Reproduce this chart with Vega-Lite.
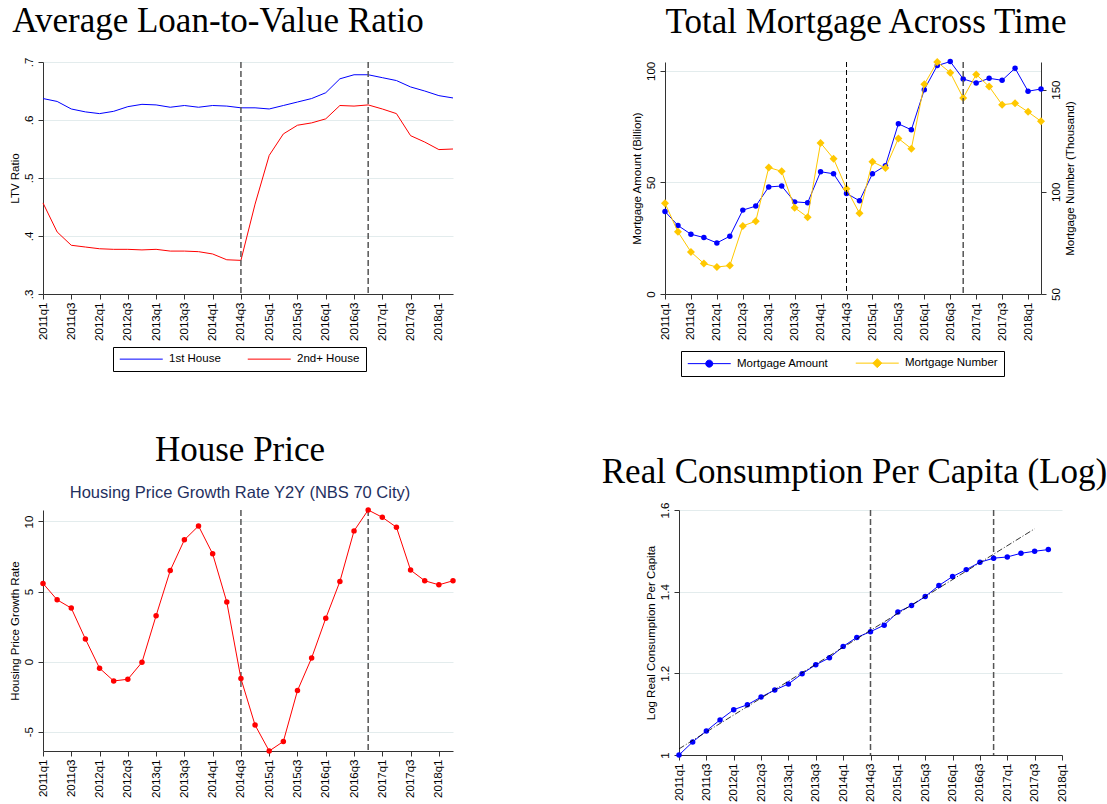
{
  "$schema": "https://vega.github.io/schema/vega-lite/v6.json",
  "padding": {"left": 9, "top": 4, "right": 0, "bottom": 0},
  "spacing": 51,
  "resolve": {"scale": {"color": "independent"}, "legend": {"color": "independent"}},
  "datasets": {
    "ltv": [
      {"quarter": "2011q1", "series": "1st House", "ltv": 0.637}, {"quarter": "2011q2", "series": "1st House", "ltv": 0.632}, {"quarter": "2011q3", "series": "1st House", "ltv": 0.619}, {"quarter": "2011q4", "series": "1st House", "ltv": 0.614},
      {"quarter": "2012q1", "series": "1st House", "ltv": 0.611}, {"quarter": "2012q2", "series": "1st House", "ltv": 0.615}, {"quarter": "2012q3", "series": "1st House", "ltv": 0.623}, {"quarter": "2012q4", "series": "1st House", "ltv": 0.627},
      {"quarter": "2013q1", "series": "1st House", "ltv": 0.626}, {"quarter": "2013q2", "series": "1st House", "ltv": 0.622}, {"quarter": "2013q3", "series": "1st House", "ltv": 0.625}, {"quarter": "2013q4", "series": "1st House", "ltv": 0.622},
      {"quarter": "2014q1", "series": "1st House", "ltv": 0.625}, {"quarter": "2014q2", "series": "1st House", "ltv": 0.624}, {"quarter": "2014q3", "series": "1st House", "ltv": 0.621}, {"quarter": "2014q4", "series": "1st House", "ltv": 0.621},
      {"quarter": "2015q1", "series": "1st House", "ltv": 0.619}, {"quarter": "2015q2", "series": "1st House", "ltv": 0.625}, {"quarter": "2015q3", "series": "1st House", "ltv": 0.631}, {"quarter": "2015q4", "series": "1st House", "ltv": 0.637},
      {"quarter": "2016q1", "series": "1st House", "ltv": 0.647}, {"quarter": "2016q2", "series": "1st House", "ltv": 0.671}, {"quarter": "2016q3", "series": "1st House", "ltv": 0.678}, {"quarter": "2016q4", "series": "1st House", "ltv": 0.678},
      {"quarter": "2017q1", "series": "1st House", "ltv": 0.673}, {"quarter": "2017q2", "series": "1st House", "ltv": 0.668}, {"quarter": "2017q3", "series": "1st House", "ltv": 0.657}, {"quarter": "2017q4", "series": "1st House", "ltv": 0.650},
      {"quarter": "2018q1", "series": "1st House", "ltv": 0.642}, {"quarter": "2018q2", "series": "1st House", "ltv": 0.638},
      {"quarter": "2011q1", "series": "2nd+ House", "ltv": 0.457}, {"quarter": "2011q2", "series": "2nd+ House", "ltv": 0.407}, {"quarter": "2011q3", "series": "2nd+ House", "ltv": 0.384}, {"quarter": "2011q4", "series": "2nd+ House", "ltv": 0.381},
      {"quarter": "2012q1", "series": "2nd+ House", "ltv": 0.378}, {"quarter": "2012q2", "series": "2nd+ House", "ltv": 0.377}, {"quarter": "2012q3", "series": "2nd+ House", "ltv": 0.377}, {"quarter": "2012q4", "series": "2nd+ House", "ltv": 0.376},
      {"quarter": "2013q1", "series": "2nd+ House", "ltv": 0.377}, {"quarter": "2013q2", "series": "2nd+ House", "ltv": 0.374}, {"quarter": "2013q3", "series": "2nd+ House", "ltv": 0.374}, {"quarter": "2013q4", "series": "2nd+ House", "ltv": 0.373},
      {"quarter": "2014q1", "series": "2nd+ House", "ltv": 0.369}, {"quarter": "2014q2", "series": "2nd+ House", "ltv": 0.359}, {"quarter": "2014q3", "series": "2nd+ House", "ltv": 0.358}, {"quarter": "2014q4", "series": "2nd+ House", "ltv": 0.455},
      {"quarter": "2015q1", "series": "2nd+ House", "ltv": 0.539}, {"quarter": "2015q2", "series": "2nd+ House", "ltv": 0.576}, {"quarter": "2015q3", "series": "2nd+ House", "ltv": 0.591}, {"quarter": "2015q4", "series": "2nd+ House", "ltv": 0.595},
      {"quarter": "2016q1", "series": "2nd+ House", "ltv": 0.602}, {"quarter": "2016q2", "series": "2nd+ House", "ltv": 0.625}, {"quarter": "2016q3", "series": "2nd+ House", "ltv": 0.624}, {"quarter": "2016q4", "series": "2nd+ House", "ltv": 0.626},
      {"quarter": "2017q1", "series": "2nd+ House", "ltv": 0.619}, {"quarter": "2017q2", "series": "2nd+ House", "ltv": 0.611}, {"quarter": "2017q3", "series": "2nd+ House", "ltv": 0.573}, {"quarter": "2017q4", "series": "2nd+ House", "ltv": 0.562},
      {"quarter": "2018q1", "series": "2nd+ House", "ltv": 0.549}, {"quarter": "2018q2", "series": "2nd+ House", "ltv": 0.550}
    ],
    "mortgage": [
      {"quarter": "2011q1", "amount": 37.0, "number": 94.4}, {"quarter": "2011q2", "amount": 30.7, "number": 80.4}, {"quarter": "2011q3", "amount": 26.8, "number": 70.6}, {"quarter": "2011q4", "amount": 25.3, "number": 64.9},
      {"quarter": "2012q1", "amount": 22.9, "number": 63.2}, {"quarter": "2012q2", "amount": 25.9, "number": 63.9}, {"quarter": "2012q3", "amount": 37.6, "number": 83.3}, {"quarter": "2012q4", "amount": 39.4, "number": 85.6},
      {"quarter": "2013q1", "amount": 48.0, "number": 111.9}, {"quarter": "2013q2", "amount": 48.4, "number": 110.0}, {"quarter": "2013q3", "amount": 41.3, "number": 92.2}, {"quarter": "2013q4", "amount": 40.9, "number": 87.6},
      {"quarter": "2014q1", "amount": 54.8, "number": 123.9}, {"quarter": "2014q2", "amount": 53.9, "number": 116.2}, {"quarter": "2014q3", "amount": 45.1, "number": 101.5}, {"quarter": "2014q4", "amount": 41.8, "number": 89.5},
      {"quarter": "2015q1", "amount": 53.9, "number": 114.7}, {"quarter": "2015q2", "amount": 57.5, "number": 111.6}, {"quarter": "2015q3", "amount": 76.3, "number": 126.1}, {"quarter": "2015q4", "amount": 73.6, "number": 121.1},
      {"quarter": "2016q1", "amount": 91.6, "number": 152.6}, {"quarter": "2016q2", "amount": 102.4, "number": 163.5}, {"quarter": "2016q3", "amount": 104.2, "number": 158.3}, {"quarter": "2016q4", "amount": 96.4, "number": 145.9},
      {"quarter": "2017q1", "amount": 94.6, "number": 157.4}, {"quarter": "2017q2", "amount": 96.7, "number": 151.5}, {"quarter": "2017q3", "amount": 95.8, "number": 142.6}, {"quarter": "2017q4", "amount": 101.2, "number": 143.3},
      {"quarter": "2018q1", "amount": 90.9, "number": 139.1}, {"quarter": "2018q2", "amount": 91.9, "number": 134.5}
    ],
    "house": [
      {"quarter": "2011q1", "growth": 5.58}, {"quarter": "2011q2", "growth": 4.41}, {"quarter": "2011q3", "growth": 3.82}, {"quarter": "2011q4", "growth": 1.61},
      {"quarter": "2012q1", "growth": -0.47}, {"quarter": "2012q2", "growth": -1.38}, {"quarter": "2012q3", "growth": -1.26}, {"quarter": "2012q4", "growth": -0.05},
      {"quarter": "2013q1", "growth": 3.28}, {"quarter": "2013q2", "growth": 6.5}, {"quarter": "2013q3", "growth": 8.69}, {"quarter": "2013q4", "growth": 9.68},
      {"quarter": "2014q1", "growth": 7.69}, {"quarter": "2014q2", "growth": 4.25}, {"quarter": "2014q3", "growth": -1.21}, {"quarter": "2014q4", "growth": -4.53},
      {"quarter": "2015q1", "growth": -6.38}, {"quarter": "2015q2", "growth": -5.7}, {"quarter": "2015q3", "growth": -2.07}, {"quarter": "2015q4", "growth": 0.26},
      {"quarter": "2016q1", "growth": 3.09}, {"quarter": "2016q2", "growth": 5.72}, {"quarter": "2016q3", "growth": 9.33}, {"quarter": "2016q4", "growth": 10.82},
      {"quarter": "2017q1", "growth": 10.3}, {"quarter": "2017q2", "growth": 9.59}, {"quarter": "2017q3", "growth": 6.53}, {"quarter": "2017q4", "growth": 5.77},
      {"quarter": "2018q1", "growth": 5.48}, {"quarter": "2018q2", "growth": 5.77}
    ],
    "cons": [
      {"quarter": "2011q1", "lcons": 1.0}, {"quarter": "2011q2", "lcons": 1.032}, {"quarter": "2011q3", "lcons": 1.059}, {"quarter": "2011q4", "lcons": 1.086},
      {"quarter": "2012q1", "lcons": 1.111}, {"quarter": "2012q2", "lcons": 1.123}, {"quarter": "2012q3", "lcons": 1.142}, {"quarter": "2012q4", "lcons": 1.159},
      {"quarter": "2013q1", "lcons": 1.174}, {"quarter": "2013q2", "lcons": 1.199}, {"quarter": "2013q3", "lcons": 1.221}, {"quarter": "2013q4", "lcons": 1.238},
      {"quarter": "2014q1", "lcons": 1.266}, {"quarter": "2014q2", "lcons": 1.288}, {"quarter": "2014q3", "lcons": 1.302}, {"quarter": "2014q4", "lcons": 1.318},
      {"quarter": "2015q1", "lcons": 1.35}, {"quarter": "2015q2", "lcons": 1.366}, {"quarter": "2015q3", "lcons": 1.388}, {"quarter": "2015q4", "lcons": 1.415},
      {"quarter": "2016q1", "lcons": 1.437}, {"quarter": "2016q2", "lcons": 1.454}, {"quarter": "2016q3", "lcons": 1.472}, {"quarter": "2016q4", "lcons": 1.482},
      {"quarter": "2017q1", "lcons": 1.485}, {"quarter": "2017q2", "lcons": 1.494}, {"quarter": "2017q3", "lcons": 1.499}, {"quarter": "2017q4", "lcons": 1.503}
    ],
    "trend": [
      {"quarter": "2011q1", "fit": 1.015}, {"quarter": "2017q3", "fit": 1.554}
    ],
    "events": [
      {"quarter": "2014q3"}, {"quarter": "2016q4"}
    ]
  },
  "vconcat": [
    {
      "spacing": 176,
      "resolve": {"scale": {"color": "independent"}, "legend": {"color": "independent"}},
      "hconcat": [
        {
          "width": 410, "height": 232,
          "title": {"text": "Average Loan-to-Value Ratio", "frame": "group", "dx": -30, "offset": 18},
          "encoding": {
            "x": {"field": "quarter", "type": "ordinal", "scale": {"type": "point", "padding": 0},
              "axis": {"title": null, "values": ["2011q1","2011q3","2012q1","2012q3","2013q1","2013q3","2014q1","2014q3","2015q1","2015q3","2016q1","2016q3","2017q1","2017q3","2018q1"], "labelAngle": -90, "labelAlign": "right", "labelBaseline": "middle", "labelOverlap": false, "grid": false}}
          },
          "layer": [
            {
              "data": {"name": "ltv"},
              "mark": {"type": "line", "strokeWidth": 1},
              "encoding": {
                "y": {"field": "ltv", "type": "quantitative", "scale": {"domain": [0.3, 0.7], "nice": false, "zero": false},
                  "axis": {"title": "LTV Ratio", "values": [0.3, 0.4, 0.5, 0.6, 0.7], "labelExpr": "replace(format(datum.value, '.1f'), '0.', '.')", "labelAngle": -90, "labelAlign": "center", "labelBaseline": "bottom", "grid": true, "labelPadding": 4}},
                "color": {"field": "series", "type": "nominal", "scale": {"domain": ["1st House", "2nd+ House"], "range": ["#0000ff", "#ff0000"]},
                  "legend": {"orient": "none", "legendX": 70, "legendY": 285, "direction": "horizontal", "title": null, "strokeColor": "#000", "padding": 6, "columnPadding": 24, "labelOffset": 22, "symbolOffset": 16.5, "symbolType": "M-4.3,0H4.3", "symbolSize": 100, "symbolStrokeWidth": 1, "labelFontSize": 11.5, "labelFont": "Liberation Sans", "labelColor": "#000"}}
              }
            },
            {
              "data": {"name": "events"},
              "mark": {"type": "rule", "color": "#555555", "strokeWidth": 1.5, "strokeDash": [6, 3]},
              "encoding": {}
            }
          ]
        },
        {
          "width": 376, "height": 232,
          "title": {"text": "Total Mortgage Across Time", "frame": "group", "dx": 13, "offset": 18},
          "data": {"name": "mortgage"},
          "encoding": {
            "x": {"field": "quarter", "type": "ordinal", "scale": {"type": "point", "padding": 0},
              "axis": {"title": null, "values": ["2011q1","2011q3","2012q1","2012q3","2013q1","2013q3","2014q1","2014q3","2015q1","2015q3","2016q1","2016q3","2017q1","2017q3","2018q1"], "labelAngle": -90, "labelAlign": "right", "labelBaseline": "middle", "labelOverlap": false, "grid": false}}
          },
          "layer": [
            {
              "encoding": {
                "y": {"field": "amount", "type": "quantitative", "scale": {"domain": [0, 104], "nice": false, "zero": false},
                  "axis": {"title": "Mortgage Amount (Billion)", "values": [0, 50, 100], "labelAngle": -90, "labelAlign": "center", "labelBaseline": "bottom", "grid": true, "labelPadding": 4}}
              },
              "layer": [
                {
                  "mark": {"type": "line", "strokeWidth": 1},
                  "encoding": {
                    "color": {"datum": "Mortgage Amount", "type": "nominal", "scale": {"domain": ["Mortgage Amount", "Mortgage Number"], "range": ["#0000ff", "#ffc800"]},
                      "legend": {"orient": "none", "legendX": 16, "legendY": 289, "direction": "horizontal", "title": null, "strokeColor": "#000", "padding": 6, "columnPadding": 24, "labelOffset": 22, "symbolOffset": 16.5, "symbolSize": 100, "labelFontSize": 11.5, "labelFont": "Liberation Sans", "labelColor": "#000",
                        "encode": {"symbols": {"update": {
                          "shape": {"signal": "datum.value === 'Mortgage Amount' ? 'M-4.3,0H4.3M-0.7,0A0.7,0.7 0 1,1 0.7,0A0.7,0.7 0 1,1 -0.7,0Z' : 'M-4.3,0H4.3M0,-0.9L0.9,0L0,0.9L-0.9,0Z'"},
                          "stroke": {"signal": "datum.value === 'Mortgage Amount' ? '#0000ff' : '#ffc800'"},
                          "fill": {"signal": "datum.value === 'Mortgage Amount' ? '#0000ff' : '#ffc800'"},
                          "strokeWidth": {"value": 1},
                          "opacity": {"value": 1}
                        }}}}}
                  }
                },
                {
                  "mark": {"type": "point", "shape": "circle", "filled": true, "size": 30, "opacity": 1},
                  "encoding": {"color": {"datum": "Mortgage Amount", "type": "nominal"}}
                }
              ]
            },
            {
              "encoding": {
                "y": {"field": "number", "type": "quantitative", "scale": {"domain": [50, 163.5], "nice": false, "zero": false},
                  "axis": {"orient": "right", "title": "Mortgage Number (Thousand)", "titleAngle": -90, "titleBaseline": "top", "values": [50, 100, 150], "labelAngle": -90, "labelAlign": "center", "labelBaseline": "top", "grid": false, "labelPadding": 4}}
              },
              "layer": [
                {
                  "mark": {"type": "line", "strokeWidth": 1},
                  "encoding": {"color": {"datum": "Mortgage Number", "type": "nominal"}}
                },
                {
                  "mark": {"type": "point", "shape": "diamond", "filled": true, "size": 64, "opacity": 1},
                  "encoding": {"color": {"datum": "Mortgage Number", "type": "nominal"}}
                }
              ]
            },
            {
              "data": {"name": "events"},
              "mark": {"type": "rule"},
              "encoding": {
                "color": {"condition": {"test": "datum.quarter === '2014q3'", "value": "#000000"}, "value": "#555555"},
                "strokeWidth": {"condition": {"test": "datum.quarter === '2014q3'", "value": 1}, "value": 1.5},
                "strokeDash": {"condition": {"test": "datum.quarter === '2014q3'", "value": [5, 3]}, "value": [6, 3]}
              }
            }
          ],
          "resolve": {"scale": {"y": "independent"}}
        }
      ]
    },
    {
      "spacing": 145,
      "resolve": {"scale": {"color": "independent"}, "legend": {"color": "independent"}},
      "hconcat": [
        {
          "width": 410, "height": 241,
          "title": {"text": "House Price", "subtitle": "Housing Price Growth Rate Y2Y (NBS 70 City)", "frame": "group", "dx": -8, "offset": 6},
          "encoding": {
            "x": {"field": "quarter", "type": "ordinal", "scale": {"type": "point", "padding": 0},
              "axis": {"title": null, "values": ["2011q1","2011q3","2012q1","2012q3","2013q1","2013q3","2014q1","2014q3","2015q1","2015q3","2016q1","2016q3","2017q1","2017q3","2018q1"], "labelAngle": -90, "labelAlign": "right", "labelBaseline": "middle", "labelOverlap": false, "grid": false}}
          },
          "layer": [
            {
              "data": {"name": "events"},
              "mark": {"type": "rule", "color": "#555555", "strokeWidth": 1.5, "strokeDash": [6, 3]},
              "encoding": {}
            },
            {
              "data": {"name": "house"},
              "mark": {"type": "line", "color": "#ff0000", "strokeWidth": 1},
              "encoding": {
                "y": {"field": "growth", "type": "quantitative", "scale": {"domain": [-6.38, 10.82], "nice": false, "zero": false},
                  "axis": {"title": "Housing Price Growth Rate", "values": [-5, 0, 5, 10], "labelExpr": "toString(datum.value)", "labelAngle": -90, "labelAlign": "center", "labelBaseline": "bottom", "grid": true, "labelPadding": 4}}
              }
            },
            {
              "data": {"name": "house"},
              "mark": {"type": "point", "shape": "circle", "filled": true, "size": 30, "color": "#ff0000", "opacity": 1},
              "encoding": {
                "y": {"field": "growth", "type": "quantitative"}
              }
            }
          ]
        },
        {
          "width": 383, "height": 245,
          "title": {"text": ["", "Real Consumption Per Capita (Log)"], "lineHeight": 27, "frame": "group", "dx": -16, "offset": 12},
          "encoding": {
            "x": {"field": "quarter", "type": "ordinal",
              "scale": {"type": "point", "padding": 0, "domain": ["2011q1","2011q2","2011q3","2011q4","2012q1","2012q2","2012q3","2012q4","2013q1","2013q2","2013q3","2013q4","2014q1","2014q2","2014q3","2014q4","2015q1","2015q2","2015q3","2015q4","2016q1","2016q2","2016q3","2016q4","2017q1","2017q2","2017q3","2017q4","2018q1"]},
              "axis": {"title": null, "values": ["2011q1","2011q3","2012q1","2012q3","2013q1","2013q3","2014q1","2014q3","2015q1","2015q3","2016q1","2016q3","2017q1","2017q3","2018q1"], "labelAngle": -90, "labelAlign": "right", "labelBaseline": "middle", "labelOverlap": false, "grid": false}}
          },
          "layer": [
            {
              "data": {"name": "events"},
              "mark": {"type": "rule", "color": "#555555", "strokeWidth": 1.5, "strokeDash": [6, 3]},
              "encoding": {}
            },
            {
              "data": {"name": "cons"},
              "mark": {"type": "line", "color": "#0000ff", "strokeWidth": 1},
              "encoding": {
                "y": {"field": "lcons", "type": "quantitative", "scale": {"domain": [1, 1.6], "nice": false, "zero": false},
                  "axis": {"title": "Log Real Consumption Per Capita", "values": [1, 1.2, 1.4, 1.6], "labelExpr": "toString(datum.value)", "labelAngle": -90, "labelAlign": "center", "labelBaseline": "bottom", "grid": true, "labelPadding": 4}}
              }
            },
            {
              "data": {"name": "cons"},
              "mark": {"type": "point", "shape": "circle", "filled": true, "size": 30, "color": "#0000ff", "opacity": 1},
              "encoding": {"y": {"field": "lcons", "type": "quantitative"}}
            },
            {
              "data": {"name": "trend"},
              "mark": {"type": "line", "color": "#000000", "strokeWidth": 0.8, "strokeDash": [6, 2, 1, 2]},
              "encoding": {"y": {"field": "fit", "type": "quantitative"}}
            }
          ]
        }
      ]
    }
  ],
  "config": {
    "view": {"stroke": null},
    "font": "Liberation Sans",
    "axis": {"labelFont": "Liberation Sans", "labelFontSize": 11.5, "labelColor": "#000", "titleFont": "Liberation Sans", "titleFontSize": 11.5, "titleFontWeight": "normal", "titleColor": "#000", "domainColor": "#333", "tickColor": "#333", "gridColor": "#e3eced", "tickSize": 5, "labelPadding": 3, "titlePadding": 3},
    "title": {"font": "Liberation Serif", "fontSize": 35, "fontWeight": "normal", "color": "#000", "subtitleFont": "Liberation Sans", "subtitleFontSize": 16.5, "subtitleColor": "#1f3060", "subtitlePadding": 17}
  }
}
